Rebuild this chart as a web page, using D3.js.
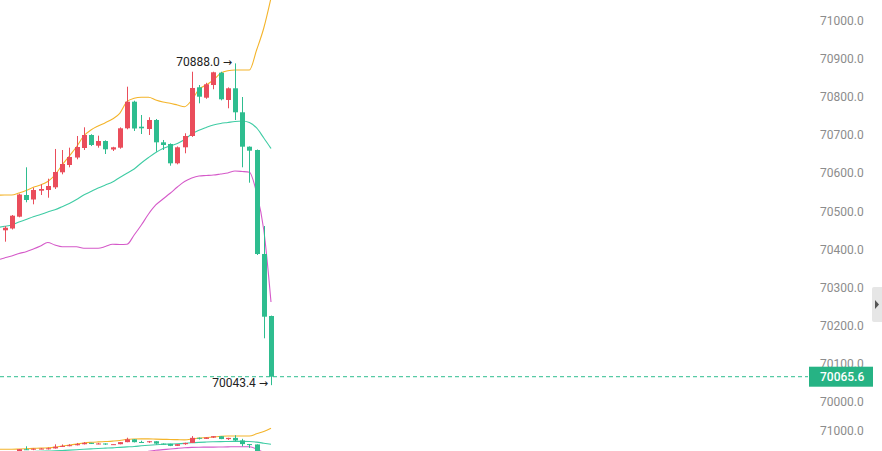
<!DOCTYPE html>
<html><head><meta charset="utf-8">
<script src="https://cdn.jsdelivr.net/npm/d3@7/dist/d3.min.js"></script>
<style>html,body{margin:0;padding:0;background:#fff;overflow:hidden}svg{display:block;font-family:Roboto,"Noto Sans",sans-serif}</style>
</head><body>
<script>
const opens  = [70449.9,70454.6,70485.6,70542.5,70530.7,70553.8,70555.6,70562.7,70602.1,70621.3,70640.9,70665.9,70700.0,70671.9,70684.2,70661.9,70666.7,70717.6,70787.4,70721.8,70715.8,70739.4,70680.8,70676.4,70625.7,70667.7,70697.4,70825.2,70797.9,70831.2,70863.5,70791.9,70822.6,70759.6,70669.3,70660.6,70387.7,70224.9];
const highs  = [70461.0,70490.0,70546.0,70615.2,70561.7,70570.6,70585.3,70663.3,70660.6,70666.7,70697.4,70720.2,70702.0,70698.2,70686.0,70669.0,70720.0,70826.8,70790.0,70752.5,70746.5,70742.0,70686.9,70678.0,70670.0,70704.5,70866.1,70831.2,70837.0,70866.1,70866.0,70825.0,70888.0,70799.7,70670.0,70662.0,70461.1,70226.0];
const lows   = [70420.0,70452.0,70484.0,70523.4,70518.1,70542.5,70535.4,70558.3,70596.8,70615.2,70636.2,70660.6,70671.0,70666.7,70650.1,70658.0,70664.0,70715.0,70710.5,70702.6,70700.0,70656.2,70660.6,70619.4,70623.0,70652.0,70695.0,70783.2,70795.0,70820.0,70791.0,70770.1,70739.4,70615.2,70574.8,70385.0,70166.4,70043.4];
const closes = [70456.7,70488.2,70543.8,70529.4,70555.6,70558.3,70566.1,70602.9,70623.9,70642.3,70668.5,70700.0,70673.8,70684.2,70662.5,70667.7,70717.6,70787.4,70717.1,70717.6,70739.4,70680.8,70673.8,70625.7,70667.7,70697.4,70823.4,70800.5,70833.1,70864.6,70793.7,70822.6,70759.6,70669.3,70658.8,70387.7,70223.1,70065.6];
// band lines start one bar earlier (index -1, off the left edge)
const upperBand  = [70542.0,70542.5,70542.5,70547.8,70554.3,70562.7,70568.8,70577.9,70595.0,70621.3,70644.9,70669.3,70697.4,70713.1,70723.6,70732.3,70742.0,70756.9,70787.4,70796.3,70798.9,70798.9,70791.9,70786.6,70783.2,70778.7,70774.3,70791.9,70819.9,70831.2,70844.4,70861.9,70868.8,70870.6,70870.6,70870.6,70923.1,70980.8,71059.6];
const middleBand = [70457.0,70460.3,70463.8,70471.6,70478.2,70485.6,70491.3,70497.9,70503.9,70511.8,70520.2,70530.7,70542.5,70551.7,70560.9,70568.8,70576.6,70588.5,70599.5,70610.8,70626.6,70640.9,70654.0,70664.6,70671.1,70677.7,70688.2,70702.6,70712.3,70719.7,70726.2,70730.2,70732.8,70735.4,70736.7,70732.8,70718.4,70692.1,70664.6];
const lowerBand  = [70372.0,70377.2,70382.4,70389.0,70393.7,70400.8,70408.7,70417.9,70411.3,70406.8,70406.8,70406.8,70402.6,70402.6,70402.6,70407.3,70413.1,70412.6,70413.1,70437.5,70463.8,70492.6,70516.3,70532.0,70547.0,70563.5,70577.9,70587.1,70592.4,70593.7,70595.0,70597.6,70600.3,70605.5,70604.2,70602.1,70547.8,70450.6,70261.7];
const priceTicks = [70000,70100,70200,70300,70400,70500,70600,70700,70800,70900,71000];
const subTicks = [71000];
const lastPrice = 70065.6;
const highLabel = 70888.0, lowLabel = 70043.4;

const W = 882, H = 451;
const UP = "#ea4d5b", DOWN = "#2ebd8f";
const svg = d3.select("body").append("svg").attr("width", W).attr("height", H);

const x = d3.scaleLinear().domain([0, 37]).range([4.5, 271]);
const y = d3.scaleLinear().domain([70000, 71000]).range([401.7, 20.7]);
const y2 = d3.scaleLinear().domain([70000, 71000]).range([471.2, 430.7]);

const defs = svg.append("defs");
defs.append("clipPath").attr("id","c1").append("rect").attr("x",0).attr("y",0).attr("width",808).attr("height",408);
defs.append("clipPath").attr("id","c2").append("rect").attr("x",0).attr("y",410).attr("width",808).attr("height",41);

function drawPane(g, ys, bw) {
  const bands = [[upperBand,"#f4b42a"],[middleBand,"#3fcca4"],[lowerBand,"#d55ac9"]];
  bands.forEach(([arr,col]) => {
    g.append("path").datum(arr)
      .attr("fill","none").attr("stroke",col).attr("stroke-width",1.1)
      .attr("d", d3.line().curve(d3.curveMonotoneX).x((d,i)=>x(i-1)).y(d=>ys(d)));
  });
  const idx = d3.range(opens.length);
  const cg = g.append("g");
  idx.forEach(i => {
    const up = closes[i] >= opens[i];
    const col = up ? UP : DOWN;
    const cx = Math.round(x(i)) + 0.5;
    cg.append("line").attr("x1",cx).attr("x2",cx)
      .attr("y1",ys(highs[i])).attr("y2",ys(lows[i])).attr("stroke",col).attr("stroke-width",1);
    const top = ys(Math.max(opens[i],closes[i])), bot = ys(Math.min(opens[i],closes[i]));
    cg.append("rect").attr("x",cx-bw/2).attr("y",top).attr("width",bw).attr("height",Math.max(1,bot-top)).attr("fill",col);
  });
}

const main = svg.append("g").attr("clip-path","url(#c1)");
drawPane(main, y, 5);
const sub = svg.append("g").attr("clip-path","url(#c2)");
drawPane(sub, y2, 5);

// last price dashed line
svg.append("line").attr("x1",0).attr("x2",808).attr("y1",y(lastPrice)).attr("y2",y(lastPrice))
  .attr("stroke",DOWN).attr("stroke-width",1).attr("stroke-dasharray","4,3");

// high / low annotations
function annot(i, v, dy) {
  const t = svg.append("text").attr("x",x(i)-3).attr("y",y(v)+dy).attr("dy","0.32em")
    .attr("text-anchor","end").attr("font-size",12).attr("fill","#222");
  t.append("tspan").text(d3.format(".1f")(v)+" ");
  t.append("tspan").attr("font-family","DejaVu Sans").attr("font-size",11).text("\u2192");
}
annot(highs.indexOf(highLabel), highLabel, -1);
annot(lows.indexOf(lowLabel), lowLabel, -2);

// axes
const ax = svg.append("g").attr("transform","translate(808,0)")
  .call(d3.axisRight(y).tickValues(priceTicks).tickFormat(d3.format(".1f")).tickSize(0).tickPadding(12));
ax.select(".domain").remove();
ax.selectAll("text").attr("fill","#8c8c8c").attr("font-size",12).attr("font-family","Roboto,sans-serif");
const ax2 = svg.append("g").attr("transform","translate(808,0)")
  .call(d3.axisRight(y2).tickValues(subTicks).tickFormat(d3.format(".1f")).tickSize(0).tickPadding(12));
ax2.select(".domain").remove();
ax2.selectAll("text").attr("fill","#8c8c8c").attr("font-size",12).attr("font-family","Roboto,sans-serif");

// last price tag
const ly = y(lastPrice);
svg.append("rect").attr("x",809).attr("y",ly-10).attr("width",64).attr("height",20).attr("fill","#26b384");
svg.append("text").attr("x",820).attr("y",ly).attr("dy","0.35em").attr("fill","#fff")
  .attr("font-size",12).attr("font-weight",500).text(d3.format(".1f")(lastPrice));

// side tab
svg.append("rect").attr("x",872).attr("y",287).attr("width",12).attr("height",35).attr("rx",2).attr("fill","#e6e6e6");
svg.append("path").attr("d","M875,300 L879,304.5 L875,309 Z").attr("fill","#555");
</script>
</body></html>
